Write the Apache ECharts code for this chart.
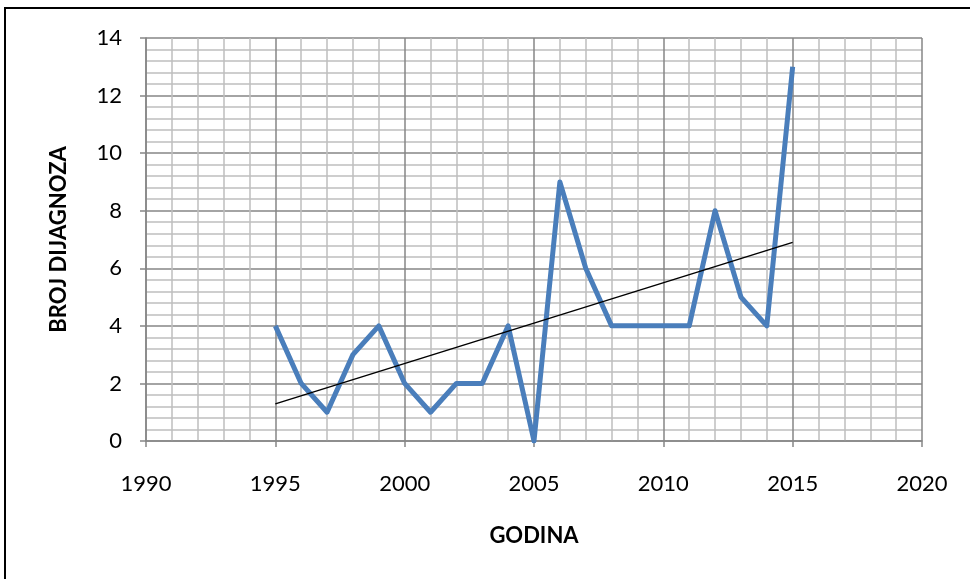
<!DOCTYPE html>
<html><head><meta charset="utf-8">
<script src="https://cdn.jsdelivr.net/npm/echarts@6/dist/echarts.min.js"></script>
<style>html,body{margin:0;padding:0;background:#fff}#c{width:970px;height:579px}</style>
</head><body><div id="c"></div>
<script>
const years = [1995,1996,1997,1998,1999,2000,2001,2002,2003,2004,2005,2006,2007,2008,2009,2010,2011,2012,2013,2014,2015];
const diagnoses = [4,2,1,3,4,2,1,2,2,4,0,9,6,4,4,4,4,8,5,4,13];
const trendYears = [1995, 2015];
const trendValues = [1.29, 6.9];
const xTitle = 'GODINA';
const yTitle = 'BROJ DIJAGNOZA';

const chart = echarts.init(document.getElementById('c'), null, {renderer:'canvas'});
const font = 'Lato, "Open Sans", sans-serif';
chart.setOption({
  animation:false,
  backgroundColor:'#fff',
  graphic:[{type:'rect', shape:{x:5,y:8,width:1000,height:600}, style:{fill:'none',stroke:'#000',lineWidth:2}, z:-1}],
  grid:{left:146,right:48,top:38,bottom:138},
  xAxis:{type:'value',min:1990,max:2020,interval:5,
    name:xTitle,nameLocation:'middle',nameGap:84,
    nameTextStyle:{fontFamily:font,fontSize:22,fontWeight:'bold',color:'#000'},
    axisLine:{show:true,onZero:false,lineStyle:{color:'#868686',width:1.5}},
    axisTick:{show:true,length:6,lineStyle:{color:'#868686',width:1.5}},
    axisLabel:{fontFamily:font,fontSize:22,color:'#000',margin:32,formatter:v=>String(v)},
    splitLine:{show:true,lineStyle:{color:'#868686',width:1.5}},
    minorTick:{show:false,splitNumber:5},
    minorSplitLine:{show:true,lineStyle:{color:'#bfbfbf',width:1.5}}
  },
  yAxis:{type:'value',min:0,max:14,interval:2,
    name:yTitle,nameLocation:'middle',nameGap:76,nameRotate:90,
    nameTextStyle:{fontFamily:font,fontSize:22,fontWeight:'bold',color:'#000'},
    axisLine:{show:true,lineStyle:{color:'#868686',width:1.5}},
    axisTick:{show:true,length:6,lineStyle:{color:'#868686',width:1.5}},
    axisLabel:{fontFamily:font,fontSize:22,color:'#000',margin:24,formatter:v=>String(v)},
    splitLine:{show:true,lineStyle:{color:'#868686',width:1.5}},
    minorTick:{show:false,splitNumber:5},
    minorSplitLine:{show:true,lineStyle:{color:'#bfbfbf',width:1.5}}
  },
  series:[
    {type:'line',data:years.map((y,i)=>[y,diagnoses[i]]),symbol:'none',
     lineStyle:{color:'#4a7ebb',width:5,join:'round'},z:3},
    {type:'line',data:trendYears.map((y,i)=>[y,trendValues[i]]),symbol:'none',
     lineStyle:{color:'#000',width:1.5},z:4}
  ]
});
</script></body></html>
